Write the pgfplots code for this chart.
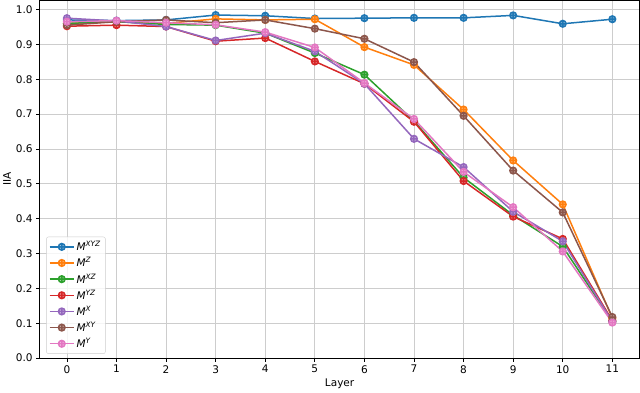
\documentclass[border=0pt]{standalone}
\usepackage{pgfplots}
\usepackage{pgfplotstable}
\pgfplotsset{compat=1.18}
\usepackage{fontspec}
\setmainfont{DejaVu Sans}

\definecolor{c0}{HTML}{1F77B4}
\definecolor{c1}{HTML}{FF7F0E}
\definecolor{c2}{HTML}{2CA02C}
\definecolor{c3}{HTML}{D62728}
\definecolor{c4}{HTML}{9467BD}
\definecolor{c5}{HTML}{8C564B}
\definecolor{c6}{HTML}{E377C2}
\definecolor{gridc}{RGB}{205,205,205}

\newcommand{\M}[1]{\textit{M}\textsuperscript{\textit{#1}}}

\pgfplotstableread{
layer xyz   z     xz    yz    x     xy    y
0     0.970 0.960 0.960 0.952 0.975 0.955 0.965
1     0.968 0.965 0.965 0.955 0.967 0.965 0.968
2     0.970 0.960 0.957 0.951 0.951 0.970 0.962
3     0.984 0.973 0.955 0.909 0.911 0.962 0.956
4     0.982 0.970 0.932 0.918 0.932 0.970 0.935
5     0.974 0.972 0.875 0.851 0.880 0.945 0.891
6     0.975 0.892 0.813 0.787 0.787 0.916 0.789
7     0.976 0.841 0.680 0.678 0.629 0.849 0.686
8     0.976 0.713 0.518 0.508 0.548 0.695 0.534
9     0.983 0.567 0.410 0.406 0.420 0.538 0.433
10    0.959 0.441 0.320 0.342 0.335 0.418 0.306
11    0.972 0.115 0.105 0.108 0.105 0.118 0.102
}\iia

\begin{document}
\begin{tikzpicture}
\begin{axis}[
  width=597bp, height=356bp, scale only axis,
  xmin=-0.55, xmax=11.55, ymin=0, ymax=1.026,
  xtick={0,1,...,11},
  ytick={0,0.1,...,1.0},
  font=\fontsize{10.5}{12.5}\selectfont,
  /pgf/number format/assume math mode=true,
  yticklabel style={/pgf/number format/.cd, fixed, fixed zerofill, precision=1},
  xlabel={Layer}, ylabel={IIA},
  xlabel style={yshift=1pt},
  ylabel style={yshift=-2pt},
  grid=major,
  major grid style={gridc, line width=0.8pt},
  axis line style={black, line width=0.8pt},
  tick style={black, line width=0.8pt},
  tick align=outside, major tick length=3.5bp,
  xtick pos=bottom, ytick pos=left,
  every axis plot/.append style={line width=1.5pt, mark=oplus*, mark size=3.3bp},
  legend style={at={(0.011,0.012)}, anchor=south west, draw=gridc, rounded corners=2pt,
    fill=white, fill opacity=0.8, text opacity=1, font=\fontsize{10.5}{12.5}\selectfont,
    row sep=1.3pt, inner sep=2.5pt},
  legend cell align=left,
  legend image code/.code={
    \draw[mark repeat=2, mark phase=2] plot coordinates {(0bp,0bp) (12bp,0bp) (24bp,0bp)};
  },
]
\addplot[c0, mark options={fill=c0!55!white}] table[x=layer, y=xyz] {\iia};
\addlegendentry{\M{XYZ}}
\addplot[c1, mark options={fill=c1!55!white}] table[x=layer, y=z] {\iia};
\addlegendentry{\M{Z}}
\addplot[c2, mark options={fill=c2!55!white}] table[x=layer, y=xz] {\iia};
\addlegendentry{\M{XZ}}
\addplot[c3, mark options={fill=c3!55!white}] table[x=layer, y=yz] {\iia};
\addlegendentry{\M{YZ}}
\addplot[c4, mark options={fill=c4!55!white}] table[x=layer, y=x] {\iia};
\addlegendentry{\M{X}}
\addplot[c5, mark options={fill=c5!55!white}] table[x=layer, y=xy] {\iia};
\addlegendentry{\M{XY}}
\addplot[c6, mark options={fill=c6!55!white}] table[x=layer, y=y] {\iia};
\addlegendentry{\M{Y}}
\end{axis}
\end{tikzpicture}
\end{document}
